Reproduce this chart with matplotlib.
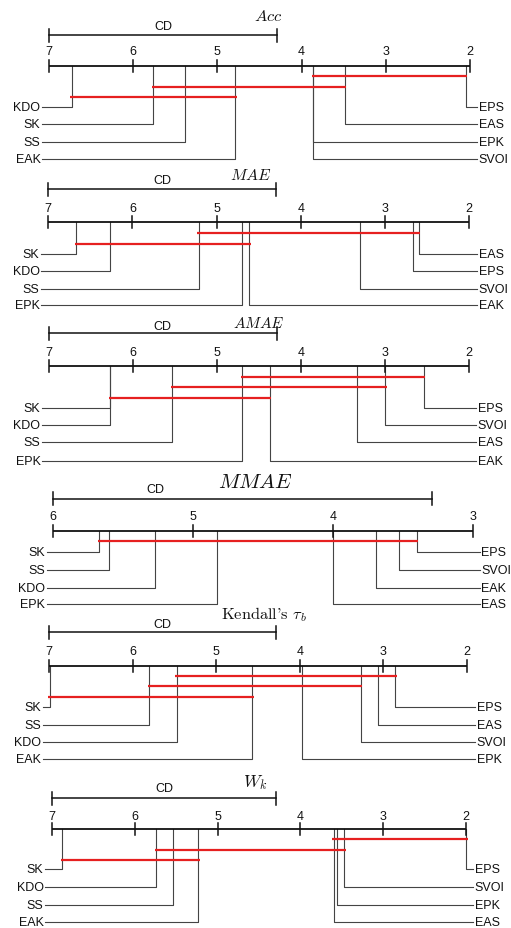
import matplotlib
matplotlib.use("Agg")
import matplotlib.pyplot as plt

plt.rcParams["mathtext.fontset"] = "cm"
plt.rcParams["font.family"] = ["Liberation Sans", "DejaVu Sans"]

# Critical difference (Nemenyi, 8 methods, 15 data sets)
CD = 2.71

# Average ranks per metric, listed from worst to best
acc_names = ["KDO", "SK", "SS", "EAK", "SVOI", "EPK", "EAS", "EPS"]
acc_ranks = [6.73, 5.76, 5.39, 4.79, 3.86, 3.86, 3.49, 2.05]
acc_cliques = [("SVOI", "EPS"), ("SK", "EAS"), ("KDO", "EAK")]

mae_names = ["SK", "KDO", "SS", "EPK", "EAK", "SVOI", "EPS", "EAS"]
mae_ranks = [6.67, 6.27, 5.21, 4.70, 4.61, 3.30, 2.67, 2.60]
mae_cliques = [("SS", "EAS"), ("SK", "EAK")]

amae_names = ["SK", "KDO", "SS", "EPK", "EAK", "EAS", "SVOI", "EPS"]
amae_ranks = [6.27, 6.27, 5.53, 4.70, 4.37, 3.33, 3.00, 2.54]
amae_cliques = [("EPK", "EPS"), ("SS", "SVOI"), ("SK", "EAK")]

mmae_names = ["SK", "SS", "KDO", "EPK", "EAS", "EAK", "SVOI", "EPS"]
mmae_ranks = [5.67, 5.60, 5.27, 4.83, 4.00, 3.69, 3.53, 3.40]
mmae_cliques = [("SK", "EPS")]

tau_names = ["SK", "SS", "KDO", "EAK", "EPK", "SVOI", "EAS", "EPS"]
tau_ranks = [6.99, 5.80, 5.47, 4.57, 3.97, 3.27, 3.07, 2.86]
tau_cliques = [("KDO", "EPS"), ("SS", "SVOI"), ("SK", "EAK")]

wk_names = ["SK", "KDO", "SS", "EAK", "EAS", "EPK", "SVOI", "EPS"]
wk_ranks = [6.87, 5.74, 5.54, 5.23, 3.60, 3.56, 3.47, 2.00]
wk_cliques = [("EAS", "EPS"), ("KDO", "SVOI"), ("SK", "EAK")]

W, H = 511, 929

# Layout of each diagram, in pixels from the top-left corner of the figure
panels = [
    dict(title=r"$Acc$", names=acc_names, ranks=acc_ranks, cliques=acc_cliques,
         lo=7, hi=2, px_lo=49, px_hi=470, title_x=268, title_y=16, title_size=11.8,
         cd_y=36, cd_text_y=27, tick_label_y=52, axis_y=66.7,
         clique_y=[77, 87.7, 98], rows=[107.5, 125, 142.5, 160],
         left_px=42, right_px=477),
    dict(title=r"$MAE$", names=mae_names, ranks=mae_ranks, cliques=mae_cliques,
         lo=7, hi=2, px_lo=48.3, px_hi=469, title_x=251, title_y=175, title_size=11.5,
         cd_y=190, cd_text_y=181.3, tick_label_y=209.2, axis_y=223.3,
         clique_y=[234, 244.7], rows=[255, 272.3, 289.5, 305.7],
         left_px=41, right_px=477),
    dict(title=r"$AMAE$", names=amae_names, ranks=amae_ranks, cliques=amae_cliques,
         lo=7, hi=2, px_lo=49, px_hi=469, title_x=259, title_y=323.3, title_size=11,
         cd_y=334.3, cd_text_y=326.7, tick_label_y=352.7, axis_y=367.3,
         clique_y=[377.7, 388.3, 398.7], rows=[409.3, 426, 443.3, 461.7],
         left_px=42, right_px=476),
    dict(title=r"$MMAE$", names=mmae_names, ranks=mmae_ranks, cliques=mmae_cliques,
         lo=6, hi=3, px_lo=53.3, px_hi=472.7, title_x=255, title_y=483, title_size=15.2,
         cd_y=499.7, cd_text_y=490, cd_text_x=155, tick_label_y=517.3, axis_y=532.3,
         clique_y=[542], rows=[553, 571.3, 588.7, 604.7],
         left_px=46.7, right_px=480),
    dict(title=r"Kendall's $\tau_b$", names=tau_names, ranks=tau_ranks, cliques=tau_cliques,
         lo=7, hi=2, px_lo=49, px_hi=467, title_x=264, title_y=615, title_size=11.8,
         title_family="cmr10",
         cd_y=633.3, cd_text_y=625, tick_label_y=651.7, axis_y=666.7,
         clique_y=[676.7, 687.3, 698], rows=[708.3, 726, 743.3, 760],
         left_px=42.7, right_px=475),
    dict(title=r"$W_k$", names=wk_names, ranks=wk_ranks, cliques=wk_cliques,
         lo=7, hi=2, px_lo=51.7, px_hi=466.3, title_x=255, title_y=782.7, title_size=12.5,
         cd_y=799.3, cd_text_y=789.3, tick_label_y=816.7, axis_y=830,
         clique_y=[840.3, 850.7, 860.7], rows=[870, 888.3, 906, 923.3],
         left_px=45, right_px=473),
]

fig = plt.figure(figsize=(W / 100, H / 100), dpi=100)
fig.patch.set_facecolor("white")

AXIS_C = "#111111"
LINK_C = "#444444"
RED = "#e62020"
TXT_C = "#111111"
FS = 9


def draw_panel(p):
    ax = fig.add_axes([0, 0, 1, 1])
    ax.set_axis_off()
    ax.patch.set_alpha(0)
    step = (p["hi"] - p["lo"]) / (p["px_hi"] - p["px_lo"])  # rank per pixel

    def at(px):
        return p["lo"] + (px - p["px_lo"]) * step

    ax.set_xlim(at(0), at(W))
    ax.set_ylim(H, 0)

    lo, hi, ay = p["lo"], p["hi"], p["axis_y"]

    # rank axis
    ax.plot([lo, hi], [ay, ay], color=AXIS_C, lw=1.3, zorder=4,
            solid_capstyle="butt")
    for v in range(hi, lo + 1):
        ax.plot([v, v], [ay - 6, ay + 6], color=AXIS_C, lw=1.1, zorder=4)
        ax.text(v, p["tick_label_y"], str(v), ha="center", va="center",
                fontsize=FS, color=TXT_C)

    # critical difference bar
    cy = p["cd_y"]
    ax.plot([lo, lo - CD], [cy, cy], color=AXIS_C, lw=1.1)
    for v in (lo, lo - CD):
        ax.plot([v, v], [cy - 6.5, cy + 6.5], color=AXIS_C, lw=1.1)
    cd_x = at(p["cd_text_x"]) if "cd_text_x" in p else lo - CD / 2
    ax.text(cd_x, p["cd_text_y"], "CD", ha="center", va="center",
            fontsize=FS, color=TXT_C)

    # method connectors and labels
    names, ranks, rows = p["names"], p["ranks"], p["rows"]
    n = len(names)
    half = (n + 1) // 2
    for i in range(n):
        r = ranks[i]
        if i < half:
            y = rows[i]
            end = at(p["left_px"])
            ax.plot([r, r, end], [ay, y, y], color=LINK_C, lw=0.8, zorder=2)
            ax.text(at(p["left_px"] - 1.5), y, names[i], ha="right", va="center",
                    fontsize=FS, color=TXT_C)
        else:
            y = rows[n - 1 - i]
            end = at(p["right_px"])
            ax.plot([r, r, end], [ay, y, y], color=LINK_C, lw=0.8, zorder=2)
            ax.text(at(p["right_px"] + 1.5), y, names[i], ha="left", va="center",
                    fontsize=FS, color=TXT_C)

    # groups with no significant difference
    ext = 1.5 * abs(step)
    for k, (a, b) in enumerate(p["cliques"]):
        ra = ranks[names.index(a)]
        rb = ranks[names.index(b)]
        yk = p["clique_y"][k]
        ax.plot([ra + ext, rb - ext], [yk, yk], color=RED, lw=1.6, zorder=3,
                solid_capstyle="butt")

    kw = {}
    if "title_family" in p:
        kw["fontfamily"] = p["title_family"]
    ax.text(at(p["title_x"]), p["title_y"], p["title"], ha="center", va="center",
            fontsize=p["title_size"], color=TXT_C, zorder=5, **kw)


for p in panels:
    draw_panel(p)

fig.savefig("out.png", dpi=100, facecolor="white")
